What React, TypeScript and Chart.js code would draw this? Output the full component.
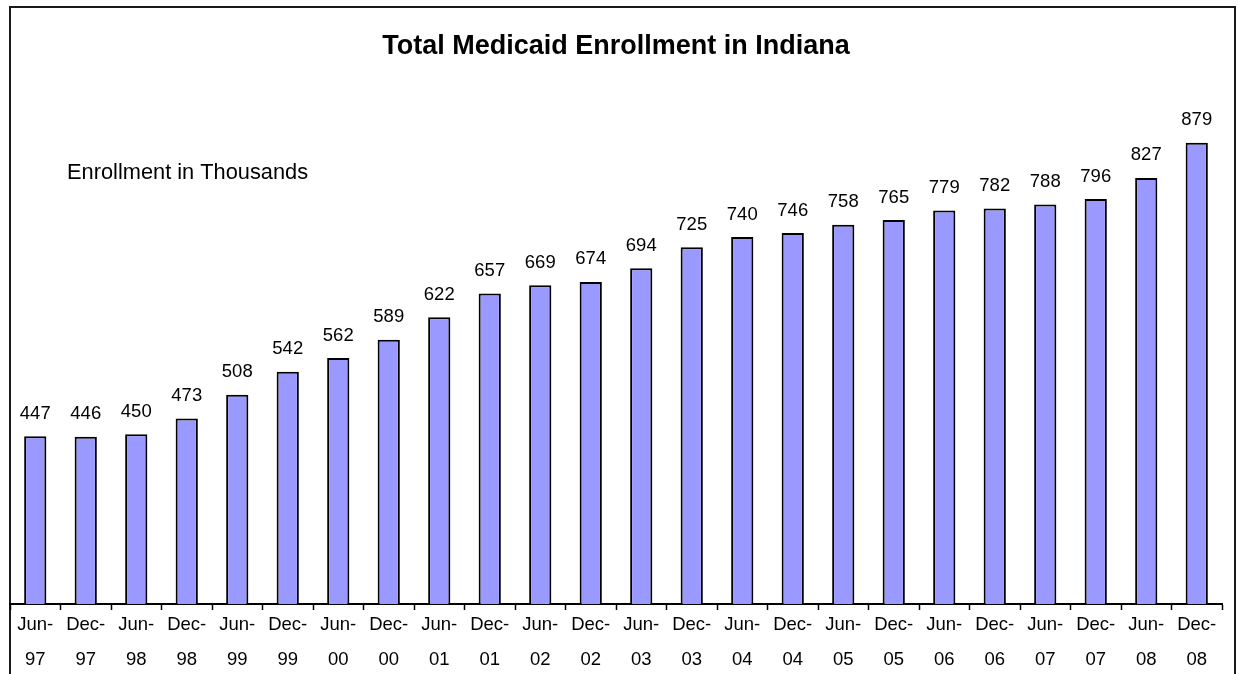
import React, { useEffect, useRef } from "react";
import { Chart, registerables } from "chart.js";

Chart.register(...registerables);

const monthLabels: string[] = [
  "Jun-", "Dec-", "Jun-", "Dec-", "Jun-", "Dec-", "Jun-", "Dec-", "Jun-", "Dec-", "Jun-", "Dec-",
  "Jun-", "Dec-", "Jun-", "Dec-", "Jun-", "Dec-", "Jun-", "Dec-", "Jun-", "Dec-", "Jun-", "Dec-",
];
const yearLabels: string[] = [
  "97", "97", "98", "98", "99", "99", "00", "00", "01", "01", "02", "02",
  "03", "03", "04", "04", "05", "05", "06", "06", "07", "07", "08", "08",
];
const enrollment: number[] = [
  447, 446, 450, 473, 508, 542, 562, 589, 622, 657, 669, 674,
  694, 725, 740, 746, 758, 765, 779, 782, 788, 796, 827, 879,
];
const titleText = "Total Medicaid Enrollment in Indiana";
const noteText = "Enrollment in Thousands";

const FONT = "'Liberation Sans', Arial, Helvetica, sans-serif";

const framePlugin = {
  id: "frame",
  beforeDraw(chart: any) {
    const ctx = chart.ctx;
    ctx.save();
    ctx.fillStyle = "#ffffff";
    ctx.fillRect(0, 0, chart.width, chart.height);
    ctx.strokeStyle = "#1a1a1a";
    ctx.lineWidth = 2;
    ctx.strokeRect(10, 7, 1225, 700);
    ctx.restore();
  },
  afterDatasetsDraw(chart: any) {
    const ctx = chart.ctx;
    const meta = chart.getDatasetMeta(0);
    const data = chart.data.datasets[0].data as number[];
    ctx.save();
    ctx.fillStyle = "#000000";
    ctx.font = `18.5px ${FONT}`;
    ctx.textAlign = "center";
    ctx.textBaseline = "alphabetic";
    meta.data.forEach((bar: any, i: number) => {
      ctx.fillText(String(data[i]), bar.x, bar.y - 17.5);
    });
    ctx.font = `21.8px ${FONT}`;
    ctx.textAlign = "left";
    ctx.textBaseline = "middle";
    ctx.fillText(noteText, 67, 172.5);
    ctx.restore();
  },
};

export default function App() {
  const canvasRef = useRef<HTMLCanvasElement | null>(null);

  useEffect(() => {
    if (!canvasRef.current) return;
    const labels = monthLabels.map((m, i) => [m, yearLabels[i]]);
    const chart = new Chart(canvasRef.current, {
      type: "bar",
      data: {
        labels,
        datasets: [
          {
            data: enrollment,
            backgroundColor: "#9999ff",
            borderColor: "#000000",
            borderWidth: 2,
            barPercentage: 0.44,
            categoryPercentage: 1,
          },
        ],
      },
      options: {
        responsive: false,
        animation: false,
        devicePixelRatio: 1,
        layout: { padding: { left: 10, right: 16, top: 0, bottom: 0 } },
        plugins: {
          legend: { display: false },
          tooltip: { enabled: false },
          title: {
            display: true,
            text: titleText,
            color: "#000000",
            font: { family: FONT, size: 27, weight: "bold", lineHeight: 0.85 },
            padding: { top: 35.5, bottom: 2 },
          },
        },
        scales: {
          x: {
            offset: true,
            grid: {
              offset: true,
              drawOnChartArea: false,
              drawTicks: true,
              tickLength: 6,
              color: "#000000",
              tickWidth: 1.5,
            },
            border: { display: true, color: "#000000", width: 2 },
            ticks: {
              color: "#000000",
              font: { family: FONT, size: 18.5, lineHeight: 1.9 },
              padding: -3,
              maxRotation: 0,
              autoSkip: false,
            },
            afterFit(scale: any) {
              scale.height = 70;
            },
          },
          y: {
            display: false,
            min: 200,
            max: 1000,
          },
        },
      },
      plugins: [framePlugin],
    });
    return () => chart.destroy();
  }, []);

  return (
    <div style={{ position: "absolute", left: 0, top: 0, width: 1238, height: 674, background: "#fff" }}>
      <canvas ref={canvasRef} width={1238} height={674} style={{ display: "block" }} />
    </div>
  );
}
